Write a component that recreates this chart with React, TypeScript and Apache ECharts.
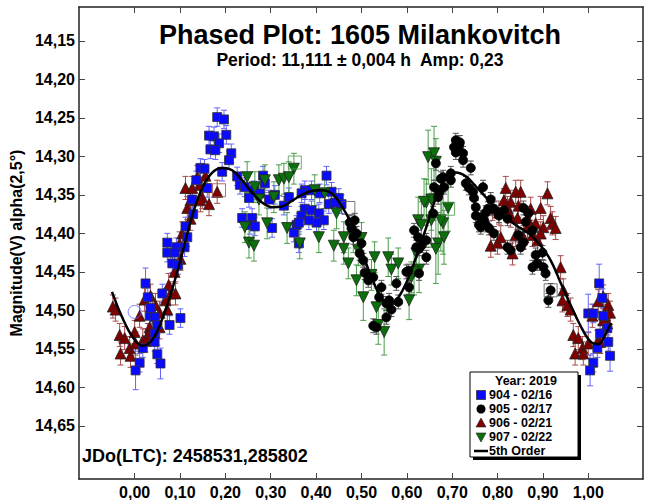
import React, { useEffect, useRef } from "react";
import * as echarts from "echarts";

type Obs = number[]; // [phase, magnitude, optional error]

const PHASE_TICKS = [0, 0.1, 0.2, 0.3, 0.4, 0.5, 0.6, 0.7, 0.8, 0.9, 1.0];
const MAG_TICKS = [14.15, 14.2, 14.25, 14.3, 14.35, 14.4, 14.45, 14.5, 14.55, 14.6, 14.65];
const PHASE_MIN = -0.1228;
const PHASE_MAX = 1.1206;
const MAG_MIN = 14.106;
const MAG_MAX = 14.719;

const TITLE = "Phased Plot: 1605 Milankovitch";
const SUBTITLE = "Period: 11,111 ± 0,004 h  Amp: 0,23";
const EPOCH = "JDo(LTC): 2458531,285802";
const Y_NAME = "Magnitude(V) alpha(2,5°)";
const LEGEND_TITLE = "Year: 2019";
const SESSIONS = ["904 - 02/16", "905 - 02/17", "906 - 02/21", "907 - 02/22"];
const FIT_NAME = "5th Order";

// Session 904 (2019-02-16)
const S904: Obs[] = [
  [0.182, 14.249], [0.197, 14.252], [0.164, 14.273], [0.175, 14.274], [0.202, 14.272], [0.186, 14.283],
  [0.167, 14.291], [0.178, 14.292], [0.213, 14.296], [0.208, 14.305], [0.145, 14.315], [0.154, 14.316],
  [0.193, 14.32], [0.136, 14.331], [0.16, 14.341], [0.226, 14.326], [0.232, 14.337], [0.243, 14.34],
  [0.283, 14.325], [0.287, 14.335], [0.263, 14.344], [0.252, 14.354], [0.276, 14.348], [0.296, 14.356],
  [0.309, 14.35], [0.329, 14.364], [0.34, 14.353], [0.127, 14.356], [0.129, 14.375], [0.237, 14.38],
  [0.259, 14.38], [0.254, 14.389], [0.265, 14.391], [0.303, 14.393], [0.351, 14.399], [0.362, 14.413],
  [0.112, 14.391], [0.116, 14.405], [0.072, 14.412], [0.092, 14.418], [0.11, 14.418],
  [0.423, 14.325], [0.375, 14.344], [0.368, 14.348], [0.39, 14.344], [0.408, 14.348], [0.434, 14.346],
  [0.45, 14.354], [0.456, 14.362], [0.428, 14.362], [0.441, 14.36], [0.375, 14.368], [0.368, 14.377],
  [0.39, 14.37], [0.406, 14.374], [0.417, 14.383], [0.401, 14.386], [0.357, 14.389], [0.384, 14.383],
  [0.362, 14.386],
  [0.072, 14.425], [0.088, 14.425], [0.083, 14.439], [0.096, 14.441], [0.024, 14.465, 0.02],
  [0.061, 14.478], [0.029, 14.483], [0.033, 14.507], [0.044, 14.509], [0.077, 14.519], [0.101, 14.51],
  [0.05, 14.519], [0.044, 14.53], [0.044, 14.541], [0.05, 14.557], [0.057, 14.569, 0.02],
  [0.011, 14.568], [0.002, 14.578, 0.025], [0.018, 14.549], [0.035, 14.497],
  [1.024, 14.465, 0.025], [1.031, 14.484], [1.0, 14.504, 0.025], [1.011, 14.504], [1.033, 14.507],
  [1.042, 14.523], [1.044, 14.541], [1.048, 14.559, 0.02], [1.011, 14.568], [1.004, 14.578, 0.02],
  [1.02, 14.549], [1.026, 14.53],
];

// Session 905 (2019-02-17)
const S905: Obs[] = [
  [0.474, 14.386], [0.485, 14.383], [0.478, 14.393], [0.482, 14.405], [0.489, 14.4], [0.5, 14.413],
  [0.496, 14.426], [0.504, 14.435], [0.507, 14.451], [0.515, 14.461], [0.526, 14.457], [0.544, 14.47],
  [0.539, 14.483], [0.555, 14.491], [0.561, 14.487], [0.526, 14.52], [0.533, 14.522], [0.555, 14.509],
  [0.566, 14.499], [0.577, 14.465], [0.581, 14.489], [0.599, 14.45], [0.605, 14.47], [0.616, 14.396],
  [0.621, 14.418], [0.627, 14.42], [0.643, 14.431], [0.643, 14.409], [0.658, 14.374], [0.669, 14.353],
  [0.664, 14.309], [0.68, 14.327], [0.697, 14.322], [0.697, 14.331], [0.724, 14.305], [0.741, 14.315],
  [0.715, 14.286], [0.708, 14.295], [0.724, 14.296], [0.73, 14.335], [0.768, 14.34], [0.748, 14.354],
  [0.752, 14.366], [0.763, 14.379], [0.759, 14.389], [0.774, 14.389], [0.779, 14.368],
  [0.708, 14.279], [0.717, 14.282], [0.704, 14.288], [0.675, 14.329], [0.66, 14.34], [0.671, 14.347],
  [0.682, 14.34], [0.737, 14.341], [0.746, 14.346], [0.785, 14.356], [0.792, 14.368], [0.774, 14.373],
  [0.752, 14.377], [0.77, 14.383], [0.763, 14.392], [0.781, 14.393], [0.792, 14.4], [0.814, 14.37],
  [0.803, 14.377], [0.822, 14.381], [0.846, 14.402], [0.857, 14.367], [0.868, 14.374], [0.862, 14.385],
  [0.877, 14.396], [0.829, 14.422], [0.822, 14.418], [0.851, 14.418], [0.857, 14.412], [0.884, 14.428],
  [0.888, 14.439], [0.877, 14.444], [0.901, 14.444], [0.899, 14.425], [0.906, 14.452], [0.917, 14.474],
  [0.625, 14.405], [0.632, 14.416], [0.603, 14.449], [0.627, 14.452], [0.912, 14.487],
];

// Session 906 (2019-02-21)
const S906: Obs[] = [
  [0.112, 14.341], [0.127, 14.341], [0.138, 14.327], [0.143, 14.337], [0.156, 14.325], [0.149, 14.353],
  [0.145, 14.357], [0.164, 14.362], [0.182, 14.346], [0.123, 14.357], [0.116, 14.367], [0.123, 14.381],
  [0.105, 14.4], [0.099, 14.413],
  [-0.048, 14.495], [-0.042, 14.499], [0.022, 14.486], [0.035, 14.481], [0.046, 14.493], [0.011, 14.507],
  [0.039, 14.502], [0.055, 14.503], [0.055, 14.522], [0.072, 14.499], [0.079, 14.478], [0.09, 14.478],
  [0.068, 14.487], [0.033, 14.522], [0.029, 14.532], [0.0, 14.528], [-0.033, 14.532], [-0.022, 14.536],
  [-0.011, 14.549], [-0.031, 14.556], [-0.009, 14.559], [0.002, 14.543], [0.018, 14.539], [0.024, 14.539],
  [0.088, 14.45], [0.101, 14.433], [0.075, 14.467],
  [0.818, 14.341], [0.84, 14.346], [0.851, 14.346], [0.91, 14.348], [0.789, 14.368], [0.814, 14.357],
  [0.822, 14.367], [0.829, 14.359], [0.846, 14.364], [0.873, 14.368], [0.895, 14.367], [0.803, 14.373],
  [0.829, 14.377], [0.844, 14.38], [0.868, 14.383], [0.884, 14.387], [0.917, 14.38], [0.921, 14.387],
  [0.928, 14.393], [0.785, 14.416], [0.8, 14.412], [0.807, 14.405], [0.833, 14.426], [0.857, 14.405],
  [0.866, 14.392], [0.877, 14.402], [0.888, 14.409], [0.901, 14.392], [0.895, 14.4], [0.84, 14.402],
  [0.939, 14.444], [0.945, 14.474],
  [0.943, 14.487], [0.954, 14.493], [0.961, 14.499], [0.967, 14.532], [0.978, 14.536], [0.987, 14.549],
  [0.971, 14.556], [0.989, 14.556], [1.0, 14.543], [1.009, 14.507], [1.02, 14.541], [1.026, 14.541],
  [1.022, 14.488], [1.033, 14.482], [1.037, 14.507], [1.044, 14.493], [1.048, 14.503], [1.042, 14.517],
  [1.033, 14.513],
];

// Session 907 (2019-02-22)
const S907: Obs[] = [
  [0.248, 14.327], [0.287, 14.331], [0.318, 14.331], [0.329, 14.329], [0.351, 14.316], [0.243, 14.392],
  [0.252, 14.412], [0.263, 14.416], [0.292, 14.387], [0.307, 14.353], [0.336, 14.393], [0.274, 14.356],
  [0.34, 14.327], [0.265, 14.34],
  [0.397, 14.344], [0.419, 14.348], [0.445, 14.374], [0.364, 14.413], [0.406, 14.405], [0.439, 14.416],
  [0.461, 14.42], [0.471, 14.439], [0.461, 14.405], [0.482, 14.405], [0.493, 14.422], [0.5, 14.406],
  [0.489, 14.461], [0.522, 14.454], [0.529, 14.431], [0.504, 14.483, 0.03], [0.533, 14.496, 0.025],
  [0.537, 14.519, 0.025], [0.55, 14.528, 0.03], [0.559, 14.431, 0.025], [0.566, 14.447], [0.581, 14.439],
  [0.605, 14.487, 0.025], [0.61, 14.457], [0.627, 14.447, 0.03], [0.625, 14.383, 0.03],
  [0.632, 14.389, 0.03], [0.654, 14.383, 0.035], [0.643, 14.36, 0.03], [0.647, 14.301, 0.035],
  [0.66, 14.296, 0.035], [0.669, 14.413, 0.04], [0.682, 14.405, 0.035], [0.68, 14.387, 0.04],
  [0.691, 14.367, 0.03], [0.664, 14.307, 0.03], [0.654, 14.356, 0.04], [0.638, 14.359, 0.03],
  [0.675, 14.383, 0.04], [0.664, 14.42, 0.045], [0.621, 14.426, 0.03], [0.616, 14.45, 0.03],
];

// Points flagged by the reduction software (drawn as open markers)
const FLAGGED_904: Obs[] = [[0.0, 14.502]];
const FLAGGED_905: Obs[] = [[0.471, 14.367], [0.917, 14.474]];
const FLAGGED_906: Obs[] = [[0.186, 14.344]];
const FLAGGED_907: Obs[] = [[0.691, 14.368], [0.353, 14.308]];

// Fourier fit of order 5, sampled along the phase
const FIT_5TH: number[][] = [
  [-0.05, 14.476], [-0.026, 14.511], [-0.004, 14.535], [0.018, 14.546], [0.039, 14.538], [0.061, 14.511],
  [0.083, 14.472], [0.105, 14.426], [0.127, 14.377], [0.149, 14.341], [0.171, 14.321], [0.193, 14.315],
  [0.215, 14.318], [0.237, 14.331], [0.259, 14.347], [0.281, 14.36], [0.303, 14.366], [0.325, 14.365],
  [0.346, 14.358], [0.368, 14.35], [0.39, 14.345], [0.412, 14.344], [0.434, 14.348], [0.456, 14.364],
  [0.478, 14.388], [0.5, 14.422], [0.522, 14.457], [0.544, 14.484], [0.561, 14.493], [0.577, 14.487],
  [0.599, 14.464], [0.621, 14.43], [0.643, 14.392], [0.664, 14.354], [0.686, 14.329], [0.708, 14.321],
  [0.73, 14.326], [0.752, 14.339], [0.774, 14.353], [0.807, 14.374], [0.84, 14.389], [0.873, 14.402],
  [0.895, 14.416], [0.917, 14.435], [0.939, 14.464], [0.961, 14.493], [0.982, 14.519], [1.004, 14.54],
  [1.022, 14.544], [1.037, 14.532], [1.05, 14.516],
];

const FONT = '"Liberation Sans", Arial, Helvetica, sans-serif';
const DOWN_TRIANGLE = "path://M0,0 L2,0 L1,1.8 Z";
const comma = (v: number) => v.toFixed(2).replace(".", ",");

function errorBars(data: Obs[], defErr: number, color: string, z: number) {
  return {
    type: "custom",
    silent: true,
    z,
    clip: true,
    data: data.map((d) => [d[0], d[1], d[2] ?? defErr]),
    encode: { x: 0, y: 1 },
    renderItem: (_params: any, api: any) => {
      const x = api.value(0);
      const y = api.value(1);
      const e = api.value(2);
      const a = api.coord([x, y - e]);
      const b = api.coord([x, y + e]);
      const style = { stroke: color, lineWidth: 1 };
      return {
        type: "group",
        children: [
          { type: "line", shape: { x1: a[0], y1: a[1], x2: b[0], y2: b[1] }, style },
          { type: "line", shape: { x1: a[0] - 3, y1: a[1], x2: a[0] + 3, y2: a[1] }, style },
          { type: "line", shape: { x1: b[0] - 3, y1: b[1], x2: b[0] + 3, y2: b[1] }, style },
        ],
      };
    },
  };
}

function points(name: string, data: Obs[], symbol: string, size: number, color: string, border: string, z: number) {
  return {
    type: "scatter",
    name,
    silent: true,
    z,
    data: data.map((d) => [d[0], d[1]]),
    symbol,
    symbolSize: size,
    itemStyle: { color, borderColor: border, borderWidth: 0.8, opacity: 1 },
  };
}

function flagged(data: Obs[], symbol: string, color: string) {
  return {
    type: "scatter",
    silent: true,
    z: 6,
    data: data.map((d) => [d[0], d[1]]),
    symbol,
    symbolSize: 13,
    itemStyle: { color: "rgba(0,0,0,0)", borderColor: color, borderWidth: 1, opacity: 0.8 },
  };
}

function legendGraphic() {
  const x0 = 470;
  const y0 = 372;
  const w = 108;
  const h = 85;
  const rows = [381, 395, 409, 423, 437, 451];
  const mx = 481;
  const tx = 489;
  const font = `bold 12.5px ${FONT}`;
  const children: any[] = [
    { type: "rect", shape: { x: x0 + 3, y: y0 + 3, width: w, height: h }, style: { fill: "#000" } },
    { type: "rect", shape: { x: x0, y: y0, width: w, height: h }, style: { fill: "#fff", stroke: "#000", lineWidth: 1 } },
    { type: "text", x: 495, y: rows[0], style: { text: LEGEND_TITLE, font, fill: "#000", verticalAlign: "middle" } },
    { type: "rect", shape: { x: mx - 4.5, y: rows[1] - 4.5, width: 9, height: 9 }, style: { fill: "#0a0aff", stroke: "#333", lineWidth: 0.8 } },
    { type: "circle", shape: { cx: mx, cy: rows[2], r: 4.5 }, style: { fill: "#000" } },
    { type: "polygon", shape: { points: [[mx - 5, rows[3] + 4], [mx + 5, rows[3] + 4], [mx, rows[3] - 5]] }, style: { fill: "#800000", stroke: "#222", lineWidth: 0.6 } },
    { type: "polygon", shape: { points: [[mx - 5, rows[4] - 4], [mx + 5, rows[4] - 4], [mx, rows[4] + 5]] }, style: { fill: "#0a700a", stroke: "#222", lineWidth: 0.6 } },
    { type: "line", shape: { x1: 474, y1: rows[5], x2: 488, y2: rows[5] }, style: { stroke: "#000", lineWidth: 2.5 } },
  ];
  SESSIONS.forEach((s, i) => {
    children.push({ type: "text", x: tx, y: rows[i + 1], style: { text: s, font, fill: "#000", verticalAlign: "middle" } });
  });
  children.push({ type: "text", x: tx, y: rows[5], style: { text: FIT_NAME, font, fill: "#000", verticalAlign: "middle" } });
  return { type: "group", z: 100, silent: true, children };
}

export default function App() {
  const ref = useRef<HTMLDivElement | null>(null);

  useEffect(() => {
    if (!ref.current) return;
    const chart = echarts.init(ref.current, undefined, { renderer: "svg" });
    const axisLine = { show: true, onZero: false, lineStyle: { color: "#222", width: 1.5 } };
    const tick = { inside: true, length: 6, lineStyle: { color: "#444", width: 1 } };
    const labelFont = { fontFamily: FONT, fontWeight: "bold", fontSize: 16, color: "#000" };

    chart.setOption({
      animation: false,
      backgroundColor: "#fff",
      grid: { left: 76, top: 7, width: 567, height: 472, containLabel: false },
      xAxis: [
        {
          type: "value",
          min: PHASE_MIN,
          max: PHASE_MAX,
          position: "bottom",
          axisLine,
          axisTick: { ...tick, customValues: PHASE_TICKS },
          axisLabel: { ...labelFont, customValues: PHASE_TICKS, formatter: (v: number) => comma(v), margin: 5 },
          splitLine: { show: false },
        },
        {
          type: "value",
          min: PHASE_MIN,
          max: PHASE_MAX,
          position: "top",
          axisLine,
          axisTick: { ...tick, customValues: PHASE_TICKS },
          axisLabel: { show: false },
          splitLine: { show: false },
        },
      ],
      yAxis: [
        {
          type: "value",
          min: MAG_MIN,
          max: MAG_MAX,
          inverse: true,
          position: "left",
          axisLine,
          axisTick: { ...tick, customValues: MAG_TICKS },
          axisLabel: { ...labelFont, customValues: MAG_TICKS, formatter: (v: number) => comma(v), margin: 4 },
          splitLine: { show: false },
          name: Y_NAME,
          nameLocation: "middle",
          nameRotate: 90,
          nameGap: 48,
          nameTextStyle: { fontFamily: FONT, fontWeight: "bold", fontSize: 16, color: "#000" },
        },
        {
          type: "value",
          min: MAG_MIN,
          max: MAG_MAX,
          inverse: true,
          position: "right",
          axisLine,
          axisTick: { ...tick, customValues: MAG_TICKS },
          axisLabel: { show: false },
          splitLine: { show: false },
        },
      ],
      graphic: [
        { type: "text", x: 360, y: 35, silent: true, style: { text: TITLE, font: `bold 27px ${FONT}`, fill: "#000", align: "center", verticalAlign: "middle" } },
        { type: "text", x: 360, y: 60, silent: true, style: { text: SUBTITLE, font: `bold 17.5px ${FONT}`, fill: "#000", align: "center", verticalAlign: "middle" } },
        { type: "text", x: 82, y: 456, silent: true, style: { text: EPOCH, font: `bold 18px ${FONT}`, fill: "#000", verticalAlign: "middle" } },
        legendGraphic(),
      ],
      series: [
        errorBars(S906, 0.015, "#a84a4a", 1),
        points(SESSIONS[2], S906, "triangle", 11, "#800000", "#222", 2),
        errorBars(S904, 0.012, "#6464ff", 1),
        points(SESSIONS[0], S904, "rect", 9, "#0a0aff", "#333", 3),
        errorBars(S907, 0.02, "#4a9e4a", 1),
        points(SESSIONS[3], S907, DOWN_TRIANGLE, 11, "#0a700a", "#222", 3),
        errorBars(S905, 0.009, "#555", 1),
        points(SESSIONS[1], S905, "circle", 9, "#000", "#000", 4),
        flagged(FLAGGED_904, "circle", "#6464ff"),
        flagged(FLAGGED_905, "rect", "#555"),
        flagged(FLAGGED_906, "rect", "#a84a4a"),
        flagged(FLAGGED_907, "rect", "#4a9e4a"),
        {
          type: "line",
          name: FIT_NAME,
          silent: true,
          z: 10,
          data: FIT_5TH,
          smooth: 0.4,
          showSymbol: false,
          lineStyle: { color: "#000", width: 2.5 },
        },
      ],
    });

    return () => chart.dispose();
  }, []);

  return (
    <div
      ref={ref}
      style={{ position: "absolute", left: 0, top: 0, width: 646, height: 500, background: "#fff" }}
    />
  );
}
